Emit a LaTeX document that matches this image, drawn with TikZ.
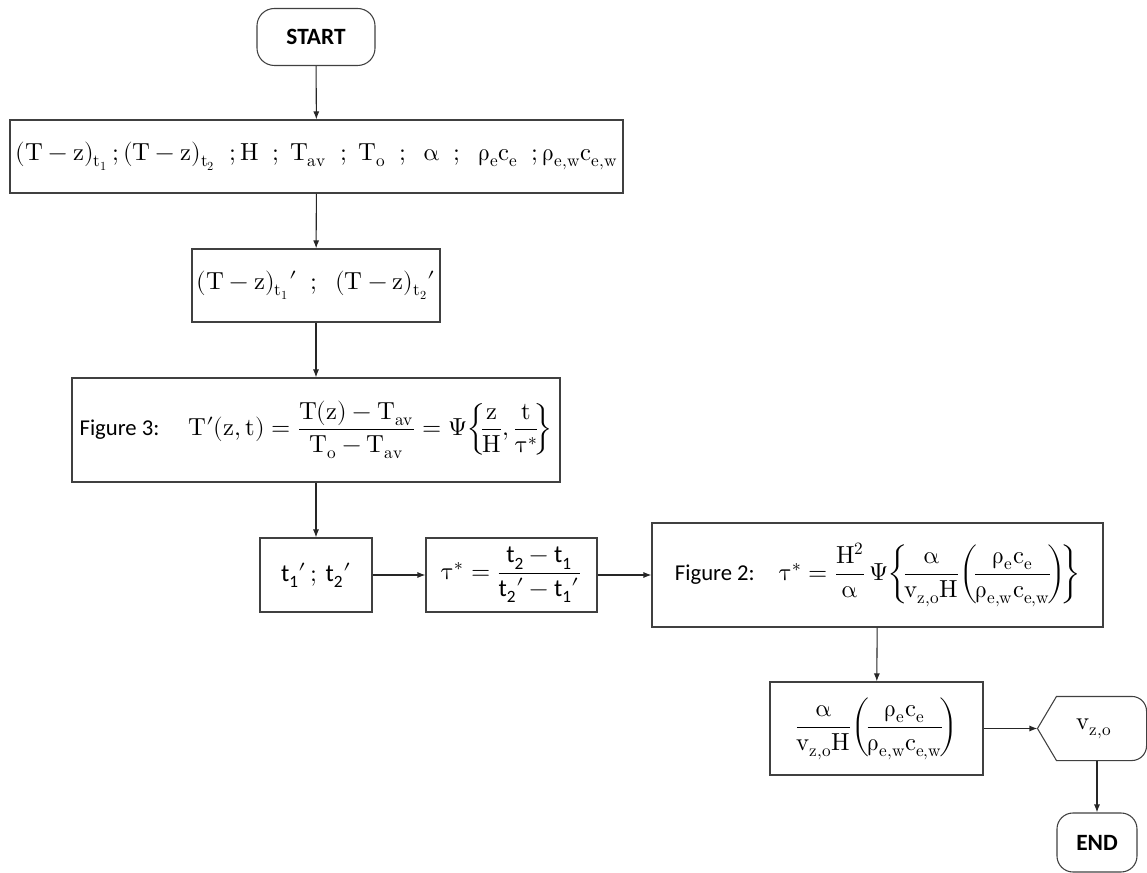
\documentclass[tikz,border=0pt]{standalone}
\usepackage{amsmath}
\usepackage{fontspec}
\usepackage[math-style=upright]{unicode-math}
\setmathfont{Latin Modern Math}
\setsansfont{Carlito}
\usetikzlibrary{arrows.meta}
\newcommand{\sfx}[1]{\textsf{#1}}
\newcommand{\pr}{\mathord{\prime}}
\begin{document}
\begin{tikzpicture}[x=0.75pt,y=-0.75pt,
  line width=0.8pt,
  every node/.style={font=\fontsize{18.5}{22}\selectfont},
  box/.style={draw=black!75, rectangle, inner sep=0pt},
  term/.style={draw=black!75, rectangle, rounded corners=13pt, inner sep=0pt, font=\sffamily\bfseries\fontsize{17.5}{20}\selectfont},
  arr/.style={draw=black!85, -{Latex[length=6pt,width=4.5pt]}}
]
\useasboundingbox (0,0) rectangle (1147,873);

\node[term, minimum width=88.5pt, minimum height=42.75pt] (start) at (316,37) {START};

\node[box, minimum width=459.75pt, minimum height=54.75pt] (b1) at (316.5,156.5)
  {$(T-z)_{t_1}\,;(T-z)_{t_2}\;\;;H\;\;;\;T_{av}\;\;;\;T_{o}\;\;;\;\;\alpha\;\;;\;\;\rho_{e}c_{e}\;\;;\rho_{e,w}c_{e,w}$};

\node[box, minimum width=186pt, minimum height=54.75pt] (b2) at (316,285.5)
  {$(T-z)_{t_1}\pr\;\;;\;\;(T-z)_{t_2}\pr$};

\node[box, minimum width=366pt, minimum height=78pt] (b3) at (316,430)
  {{\fontsize{17}{20}\sffamily Figure 3:}\enspace\; $T\pr(z,t)=\dfrac{T(z)-T_{av}}{T_o-T_{av}}=\Psi\!\left\{\!\dfrac{z}{H},\dfrac{t}{\tau^{*}}\!\right\}$};

\node[box, minimum width=84pt, minimum height=55.5pt] (b4) at (316,575)
  {$\sfx{t}_{\sfx{1}}\pr\,;\,\sfx{t}_{\sfx{2}}\pr$};

\node[box, minimum width=128.25pt, minimum height=55.5pt] (b5) at (511.5,575)
  {$\tau^{*}=\dfrac{\sfx{t}_{\sfx{2}}-\sfx{t}_{\sfx{1}}}{\sfx{t}_{\sfx{2}}\pr-\sfx{t}_{\sfx{1}}\pr}$};

\node[box, minimum width=338.25pt, minimum height=78pt] (b6) at (877.5,575)
  {{\fontsize{17}{20}\sffamily Figure 2:}\quad $\tau^{*}=\dfrac{H^2}{\alpha}\,\Psi\!\left\{\!\dfrac{\alpha}{v_{z,o}H}\!\left(\!\dfrac{\rho_e c_e}{\rho_{e,w}c_{e,w}}\!\right)\!\right\}$};

\node[box, minimum width=159.75pt, minimum height=69.75pt] (b7) at (876.5,728.5)
  {$\dfrac{\alpha}{v_{z,o}H}\!\left(\!\dfrac{\rho_e c_e}{\rho_{e,w}c_{e,w}}\!\right)$};

\node[minimum width=81pt, minimum height=47.25pt, inner sep=0pt] (v) at (1092,728.5) {};
\node (vlab) at (1094,728.5) {$v_{z,o}$};
\draw[black!75] (v.west) -- ([xshift=14.25pt]v.north west)
  [rounded corners=11pt] -- (v.north east) -- (v.south east)
  [sharp corners] -- ([xshift=14.25pt]v.south west) -- cycle;

\node[term, minimum width=60pt, minimum height=44.25pt, rounded corners=12pt] (end) at (1097,842.5) {END};

\draw[arr] (start) -- (b1);
\draw[arr] (b1) -- (b2);
\draw[arr] (b2) -- (b3);
\draw[arr] (b3) -- (b4);
\draw[arr] (b4) -- (b5);
\draw[arr] (b5) -- (b6);
\draw[arr] (b6) -- (b7);
\draw[arr] (b7.east) -- (v.west);
\draw[arr] (end.north |- v.south) -- (end.north);
\end{tikzpicture}
\end{document}
